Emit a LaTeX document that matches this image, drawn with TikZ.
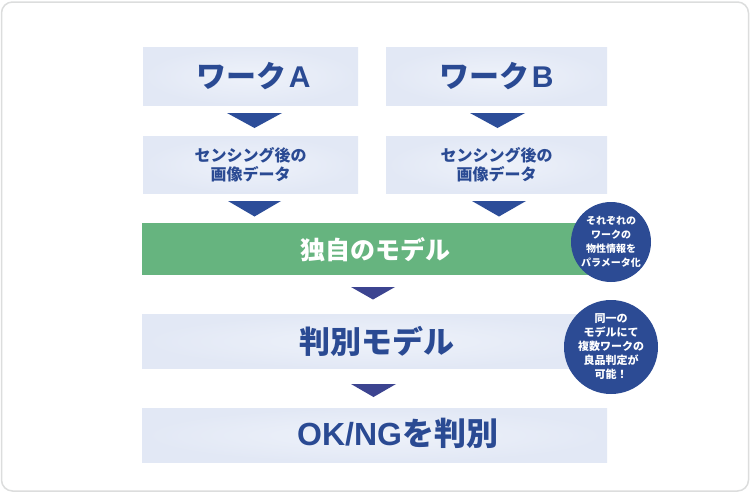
\documentclass[tikz,border=0pt]{standalone}
\usepackage{fontspec}
\setmainfont{Noto Sans CJK JP}
\newfontfamily\lat{Liberation Sans}
\definecolor{frame}{HTML}{DCDDDD}
\definecolor{boxin}{HTML}{EEF2FA}
\definecolor{boxout}{HTML}{E2E8F5}
\definecolor{txtblue}{HTML}{2A4A93}
\definecolor{triblue}{HTML}{2C4D99}
\definecolor{trivio}{HTML}{3C4490}
\definecolor{green}{HTML}{66B47F}
\definecolor{circ}{HTML}{2C4B94}
\tikzset{
  box/.style={rectangle, inner sep=0pt, anchor=north west, inner color=boxin, outer color=boxout},
  bigtxt/.style={font=\fontsize{30}{36}\selectfont\bfseries, text=txtblue, inner sep=0pt},
  midtxt/.style={font=\fontsize{16}{19}\selectfont\bfseries, text=txtblue, align=center, inner sep=0pt},
  tri/.style={fill=triblue},
  triv/.style={fill=trivio},
  bubble/.style={circle, fill=circ, inner sep=0pt, text=white, align=center},
}
\begin{document}
\begin{tikzpicture}[x=1pt,y=-1pt]
\useasboundingbox (0,0) rectangle (750,493);
\draw[frame, line width=1.5pt, fill=white, rounded corners=11pt] (1.5,2) rectangle (748.5,491);
% top row
\node[box, minimum width=215pt, minimum height=58pt] (wa) at (143,47) {};
\node[box, minimum width=221pt, minimum height=58pt] (wb) at (386,47) {};
\node[bigtxt] (wat) at ([xshift=3pt]wa.center) {ワーク\hspace{2pt}{\lat\bfseries A}};
\node[bigtxt] (wbt) at (wb.center) {ワーク\hspace{2pt}{\lat\bfseries B}};
\fill[tri] (227,113) -- (282,113) -- (254.5,128) -- cycle;
\fill[tri] (470,113) -- (525,113) -- (497.5,128) -- cycle;
% sensing row
\node[box, minimum width=215pt, minimum height=57pt] (sa) at (143,136) {};
\node[box, minimum width=221pt, minimum height=57pt] (sb) at (386,136) {};
\node[midtxt] (sat) at (sa.center) {センシング後の\\画像データ};
\node[midtxt] (sbt) at (sb.center) {センシング後の\\画像データ};
\fill[tri] (228,201) -- (281,201) -- (254.5,216.5) -- cycle;
\fill[tri] (472,201) -- (526,201) -- (499,216.5) -- cycle;
% green bar
\node[rectangle, fill=green, inner sep=0pt, anchor=north west, minimum width=465pt, minimum height=52pt] (gm) at (142,223) {};
\node[font=\fontsize{25}{30}\selectfont\bfseries, text=white, inner sep=0pt, anchor=west] (gmt) at (300,249.5) {独自のモデル};
\fill[triv] (351,287) -- (395,287) -- (373,299.5) -- cycle;
% judge model
\node[box, minimum width=465pt, minimum height=54pt] (jm) at (142,314) {};
\node[bigtxt, font=\fontsize{31}{36}\selectfont\bfseries, anchor=west] (jmt) at (299,341) {判別モデル};
\fill[triv] (351,384) -- (396,384) -- (373.5,397) -- cycle;
% result
\node[box, minimum width=465pt, minimum height=54pt] (ok) at (142,408) {};
\node[bigtxt, font=\fontsize{32}{36}\selectfont\bfseries, anchor=west] (okt) at (297,433) {{\lat\bfseries OK/NG}を判別};
% bubbles
\node[bubble, minimum size=80pt, font=\fontsize{10}{14}\selectfont\bfseries] (c1) at (611,242) {それぞれの\\ワークの\\物性情報を\\パラメータ化};
\node[bubble, minimum size=94pt, font=\fontsize{11}{14}\selectfont\bfseries] (c2) at (611,347) {同一の\\モデルにて\\複数ワークの\\良品判定が\\可能！};
\end{tikzpicture}
\end{document}
